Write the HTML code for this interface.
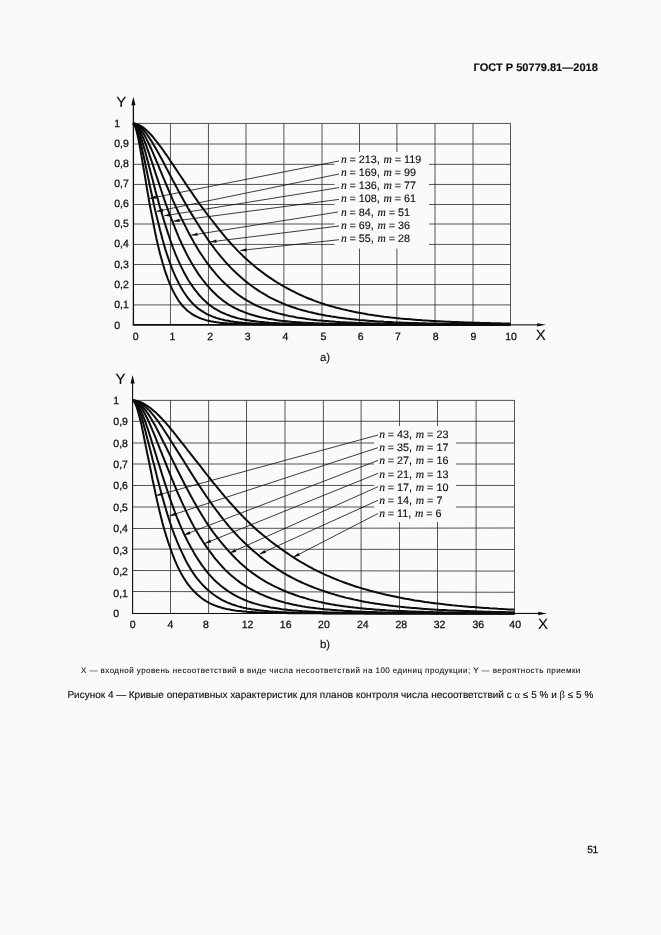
<!DOCTYPE html>
<html lang="ru">
<head>
<meta charset="utf-8">
<title>ГОСТ Р 50779.81—2018</title>
<style>
html,body{margin:0;padding:0;background:#fafafa;}
body{width:661px;height:935px;position:relative;overflow:hidden;font-family:"Liberation Sans",sans-serif;color:#0c0c0c;}
svg{position:absolute;left:0;top:0;}
.it{font-family:"Liberation Serif",serif;font-style:italic;font-size:11.6px;}
.t{position:absolute;white-space:nowrap;line-height:1;}
body,svg text,.t{text-rendering:geometricPrecision;}
.t{-webkit-text-stroke:0.12px #0c0c0c;}
svg text{stroke:#0c0c0c;stroke-width:0.12px;}
svg .tk text{stroke-width:0.25px;}
#hdr{left:473.6px;top:62.9px;font-size:11px;font-weight:bold;letter-spacing:0.02px;}
#note{left:81px;top:667.4px;font-size:8px;letter-spacing:0.448px;-webkit-text-stroke:0.08px #0c0c0c;}
#capt{left:67.4px;top:690.8px;font-size:10px;height:10px;line-height:10px;letter-spacing:0.012px;}
#capt .d{margin-right:-0.4px;}
#capt .g{font-family:"Liberation Serif",serif;font-size:10.5px;line-height:0;-webkit-text-stroke:0;}
#pg{left:587.2px;top:846.3px;font-size:10.2px;letter-spacing:-0.3px;-webkit-text-stroke:0.25px #0c0c0c;}
</style>
</head>
<body>
<svg width="661" height="935" viewBox="0 0 661 935" font-family="'Liberation Sans', sans-serif">
<g stroke="#2a2a2a" stroke-width="0.8" fill="none"><line x1="170.45" y1="123.45" x2="170.45" y2="324.60"/><line x1="208.45" y1="123.45" x2="208.45" y2="324.60"/><line x1="246.00" y1="123.45" x2="246.00" y2="324.60"/><line x1="283.90" y1="123.45" x2="283.90" y2="324.60"/><line x1="322.00" y1="123.45" x2="322.00" y2="324.60"/><line x1="359.50" y1="123.45" x2="359.50" y2="324.60"/><line x1="396.90" y1="123.45" x2="396.90" y2="324.60"/><line x1="435.00" y1="123.45" x2="435.00" y2="324.60"/><line x1="473.00" y1="123.45" x2="473.00" y2="324.60"/><line x1="510.50" y1="123.45" x2="510.50" y2="324.60"/><line x1="133.40" y1="123.45" x2="510.50" y2="123.45"/><line x1="133.40" y1="144.00" x2="510.50" y2="144.00"/><line x1="133.40" y1="164.35" x2="510.50" y2="164.35"/><line x1="133.40" y1="184.45" x2="510.50" y2="184.45"/><line x1="133.40" y1="204.50" x2="510.50" y2="204.50"/><line x1="133.40" y1="224.00" x2="510.50" y2="224.00"/><line x1="133.40" y1="244.45" x2="510.50" y2="244.45"/><line x1="133.40" y1="264.50" x2="510.50" y2="264.50"/><line x1="133.40" y1="284.50" x2="510.50" y2="284.50"/><line x1="133.40" y1="304.90" x2="510.50" y2="304.90"/></g>
<rect x="334.5" y="152" width="94.5" height="96.5" fill="#fafafa"/>
<line x1="133.4" y1="102.8" x2="133.4" y2="324.85" stroke="#0c0c0c" stroke-width="1.3"/>
<line x1="132.75" y1="324.85" x2="510.5" y2="324.85" stroke="#0c0c0c" stroke-width="1.7"/>
<line x1="510.5" y1="324.85" x2="539.9" y2="324.85" stroke="#0c0c0c" stroke-width="1.1"/>
<path d="M133.4,96.8 L135.5,105.3 L131.3,105.3 Z" fill="#0c0c0c"/>
<path d="M545.9,324.85 L537.1,323.15000000000003 L537.1,326.55 Z" fill="#0c0c0c"/>
<g stroke="#0c0c0c" stroke-width="0.8" fill="none"><line x1="339" y1="161" x2="149.7" y2="198.4"/><line x1="339" y1="174" x2="156.7" y2="211.4"/><line x1="339" y1="187.6" x2="164.2" y2="215.8"/><line x1="339" y1="199.4" x2="173.2" y2="221.2"/><line x1="338" y1="212" x2="191.2" y2="235.2"/><line x1="339" y1="226" x2="210.2" y2="241.9"/><line x1="339" y1="239.7" x2="240.2" y2="250.5"/></g>
<g fill="#0c0c0c"><path d="M149.70,198.40 L156.19,198.75 L155.57,195.61 Z"/><path d="M156.70,211.40 L163.19,211.70 L162.55,208.57 Z"/><path d="M164.20,215.80 L170.67,216.38 L170.16,213.22 Z"/><path d="M173.20,221.20 L179.65,221.97 L179.24,218.79 Z"/><path d="M191.20,235.20 L197.67,235.80 L197.17,232.64 Z"/><path d="M210.20,241.90 L216.65,242.72 L216.26,239.54 Z"/><path d="M240.20,250.50 L246.64,251.41 L246.29,248.22 Z"/></g>
<g stroke="#0c0c0c" stroke-width="2.0" fill="none" stroke-linejoin="round"><path d="M132.9,123.5 L133.9,124.2 L135.0,126.2 L136.0,129.2 L137.1,133.2 L138.2,138.0 L139.2,143.4 L140.3,149.2 L141.4,155.4 L142.5,161.9 L143.6,168.5 L144.8,175.3 L145.9,182.0 L147.0,188.8 L148.2,195.5 L149.3,202.2 L150.5,208.6 L151.7,214.8 L152.9,220.8 L154.0,226.8 L155.2,232.7 L156.4,238.4 L157.7,243.9 L158.9,249.0 L160.1,253.9 L161.4,258.6 L162.6,263.0 L163.9,267.2 L165.1,271.2 L166.4,274.9 L167.7,278.5 L169.0,281.8 L170.3,284.9 L171.6,287.9 L172.9,290.7 L174.3,293.3 L175.6,295.8 L177.0,298.1 L178.3,300.2 L179.7,302.2 L181.1,304.0 L182.5,305.7 L183.9,307.2 L185.3,308.6 L186.7,310.0 L188.1,311.2 L189.6,312.3 L191.0,313.3 L192.5,314.3 L193.9,315.2 L195.4,316.0 L196.9,316.7 L198.3,317.4 L199.8,318.0 L201.3,318.6 L202.9,319.1 L204.4,319.6 L205.9,320.1 L207.4,320.5 L209.0,320.8 L210.5,321.2 L212.1,321.5 L213.6,321.8 L215.2,322.0 L216.7,322.3 L218.3,322.5 L219.9,322.7 L221.5,322.9 L223.1,323.0 L224.7,323.2 L226.3,323.3 L228.0,323.4 L229.6,323.5 L231.2,323.6 L232.9,323.7 L234.6,323.8 L236.2,323.9 L237.9,324.0 L239.6,324.0 L241.3,324.1 L243.0,324.1 L244.7,324.2 L246.4,324.2 L248.2,324.3 L249.9,324.3 L251.7,324.3 L253.5,324.3 L255.2,324.4 L257.0,324.4 L258.8,324.4 L260.6,324.4 L262.5,324.5 L264.3,324.5 L266.1,324.5 L267.9,324.5 L269.8,324.5 L271.7,324.5 L273.5,324.5 L275.4,324.5 L277.3,324.5 L279.2,324.5 L281.1,324.6 L283.0,324.6 L284.9,324.6 L286.8,324.6 L288.8,324.6 L290.7,324.6 L292.7,324.6 L294.7,324.6 L296.6,324.6 L298.6,324.6 L300.6,324.6 L302.6,324.6 L304.6,324.6 L306.6,324.6 L308.7,324.6 L310.7,324.6 L312.8,324.6 L314.8,324.6 L316.9,324.6 L319.0,324.6 L321.0,324.6 L323.1,324.6 L325.2,324.6 L327.2,324.6 L329.3,324.6 L331.4,324.6 L333.5,324.6 L335.6,324.6 L337.7,324.6 L339.9,324.6 L342.0,324.6 L344.1,324.6 L346.3,324.6 L348.4,324.6 L350.6,324.6 L352.8,324.6 L355.0,324.6 L357.2,324.6 L359.4,324.6 L361.6,324.6 L363.8,324.6 L366.0,324.6 L368.2,324.6 L370.5,324.6 L372.7,324.6 L374.9,324.6 L377.2,324.6 L379.5,324.6 L381.8,324.6 L384.0,324.6 L386.3,324.6 L388.6,324.6 L391.0,324.6 L393.3,324.6 L395.6,324.6 L398.0,324.6 L400.3,324.6 L402.7,324.6 L405.2,324.6 L407.6,324.6 L410.0,324.6 L412.4,324.6 L414.9,324.6 L417.3,324.6 L419.8,324.6 L422.2,324.6 L424.7,324.6 L427.2,324.6 L429.7,324.6 L432.2,324.6 L434.7,324.6 L437.2,324.6 L439.7,324.6 L442.3,324.6 L444.8,324.6 L447.3,324.6 L449.9,324.6 L452.5,324.6 L455.0,324.6 L457.6,324.6 L460.2,324.6 L462.8,324.6 L465.4,324.6 L468.0,324.6 L470.6,324.6 L473.3,324.6 L475.9,324.6 L478.5,324.6 L481.1,324.6 L483.7,324.6 L486.4,324.6 L489.0,324.6 L491.7,324.6 L494.3,324.6 L497.0,324.6 L499.7,324.6 L502.4,324.6 L505.1,324.6 L507.8,324.6 L510.5,324.6"/><path d="M132.9,123.5 L133.9,123.9 L135.0,125.2 L136.0,127.3 L137.1,130.1 L138.2,133.4 L139.2,137.2 L140.3,141.4 L141.4,146.0 L142.5,150.9 L143.6,156.0 L144.8,161.3 L145.9,166.7 L147.0,172.1 L148.2,177.7 L149.3,183.2 L150.5,188.8 L151.7,194.3 L152.9,199.8 L154.0,205.2 L155.2,210.4 L156.4,215.4 L157.7,220.4 L158.9,225.3 L160.1,230.3 L161.4,235.1 L162.6,239.7 L163.9,244.2 L165.1,248.5 L166.4,252.6 L167.7,256.5 L169.0,260.3 L170.3,263.9 L171.6,267.4 L172.9,270.7 L174.3,273.9 L175.6,276.9 L177.0,279.7 L178.3,282.5 L179.7,285.1 L181.1,287.6 L182.5,289.9 L183.9,292.2 L185.3,294.3 L186.7,296.3 L188.1,298.2 L189.6,300.0 L191.0,301.7 L192.5,303.3 L193.9,304.7 L195.4,306.1 L196.9,307.4 L198.3,308.6 L199.8,309.7 L201.3,310.7 L202.9,311.7 L204.4,312.6 L205.9,313.5 L207.4,314.3 L209.0,315.0 L210.5,315.7 L212.1,316.4 L213.6,317.0 L215.2,317.5 L216.7,318.1 L218.3,318.5 L219.9,319.0 L221.5,319.4 L223.1,319.8 L224.7,320.2 L226.3,320.5 L228.0,320.8 L229.6,321.1 L231.2,321.4 L232.9,321.6 L234.6,321.9 L236.2,322.1 L237.9,322.3 L239.6,322.5 L241.3,322.6 L243.0,322.8 L244.7,322.9 L246.4,323.1 L248.2,323.2 L249.9,323.3 L251.7,323.4 L253.5,323.5 L255.2,323.6 L257.0,323.7 L258.8,323.8 L260.6,323.8 L262.5,323.9 L264.3,323.9 L266.1,324.0 L267.9,324.1 L269.8,324.1 L271.7,324.1 L273.5,324.2 L275.4,324.2 L277.3,324.2 L279.2,324.3 L281.1,324.3 L283.0,324.3 L284.9,324.4 L286.8,324.4 L288.8,324.4 L290.7,324.4 L292.7,324.4 L294.7,324.4 L296.6,324.5 L298.6,324.5 L300.6,324.5 L302.6,324.5 L304.6,324.5 L306.6,324.5 L308.7,324.5 L310.7,324.5 L312.8,324.5 L314.8,324.5 L316.9,324.5 L319.0,324.5 L321.0,324.6 L323.1,324.6 L325.2,324.6 L327.2,324.6 L329.3,324.6 L331.4,324.6 L333.5,324.6 L335.6,324.6 L337.7,324.6 L339.9,324.6 L342.0,324.6 L344.1,324.6 L346.3,324.6 L348.4,324.6 L350.6,324.6 L352.8,324.6 L355.0,324.6 L357.2,324.6 L359.4,324.6 L361.6,324.6 L363.8,324.6 L366.0,324.6 L368.2,324.6 L370.5,324.6 L372.7,324.6 L374.9,324.6 L377.2,324.6 L379.5,324.6 L381.8,324.6 L384.0,324.6 L386.3,324.6 L388.6,324.6 L391.0,324.6 L393.3,324.6 L395.6,324.6 L398.0,324.6 L400.3,324.6 L402.7,324.6 L405.2,324.6 L407.6,324.6 L410.0,324.6 L412.4,324.6 L414.9,324.6 L417.3,324.6 L419.8,324.6 L422.2,324.6 L424.7,324.6 L427.2,324.6 L429.7,324.6 L432.2,324.6 L434.7,324.6 L437.2,324.6 L439.7,324.6 L442.3,324.6 L444.8,324.6 L447.3,324.6 L449.9,324.6 L452.5,324.6 L455.0,324.6 L457.6,324.6 L460.2,324.6 L462.8,324.6 L465.4,324.6 L468.0,324.6 L470.6,324.6 L473.3,324.6 L475.9,324.6 L478.5,324.6 L481.1,324.6 L483.7,324.6 L486.4,324.6 L489.0,324.6 L491.7,324.6 L494.3,324.6 L497.0,324.6 L499.7,324.6 L502.4,324.6 L505.1,324.6 L507.8,324.6 L510.5,324.6"/><path d="M132.9,123.5 L133.9,123.7 L135.0,124.6 L136.0,126.0 L137.1,127.8 L138.2,130.1 L139.2,132.7 L140.3,135.7 L141.4,138.9 L142.5,142.5 L143.6,146.2 L144.8,150.1 L145.9,154.2 L147.0,158.5 L148.2,162.8 L149.3,167.2 L150.5,171.7 L151.7,176.2 L152.9,180.7 L154.0,185.3 L155.2,189.9 L156.4,194.4 L157.7,198.9 L158.9,203.4 L160.1,207.7 L161.4,211.9 L162.6,216.1 L163.9,220.2 L165.1,224.2 L166.4,228.4 L167.7,232.4 L169.0,236.3 L170.3,240.2 L171.6,243.9 L172.9,247.5 L174.3,251.0 L175.6,254.3 L177.0,257.6 L178.3,260.7 L179.7,263.7 L181.1,266.6 L182.5,269.4 L183.9,272.2 L185.3,274.8 L186.7,277.3 L188.1,279.7 L189.6,282.0 L191.0,284.2 L192.5,286.3 L193.9,288.4 L195.4,290.4 L196.9,292.2 L198.3,294.0 L199.8,295.8 L201.3,297.4 L202.9,299.0 L204.4,300.4 L205.9,301.8 L207.4,303.2 L209.0,304.5 L210.5,305.6 L212.1,306.8 L213.6,307.8 L215.2,308.8 L216.7,309.7 L218.3,310.6 L219.9,311.5 L221.5,312.3 L223.1,313.0 L224.7,313.7 L226.3,314.4 L228.0,315.0 L229.6,315.6 L231.2,316.2 L232.9,316.7 L234.6,317.2 L236.2,317.7 L237.9,318.2 L239.6,318.6 L241.3,319.0 L243.0,319.3 L244.7,319.7 L246.4,320.0 L248.2,320.3 L249.9,320.6 L251.7,320.9 L253.5,321.1 L255.2,321.3 L257.0,321.6 L258.8,321.8 L260.6,322.0 L262.5,322.1 L264.3,322.3 L266.1,322.5 L267.9,322.6 L269.8,322.8 L271.7,322.9 L273.5,323.0 L275.4,323.1 L277.3,323.2 L279.2,323.3 L281.1,323.4 L283.0,323.5 L284.9,323.6 L286.8,323.6 L288.8,323.7 L290.7,323.8 L292.7,323.8 L294.7,323.9 L296.6,323.9 L298.6,324.0 L300.6,324.0 L302.6,324.1 L304.6,324.1 L306.6,324.2 L308.7,324.2 L310.7,324.2 L312.8,324.2 L314.8,324.3 L316.9,324.3 L319.0,324.3 L321.0,324.3 L323.1,324.4 L325.2,324.4 L327.2,324.4 L329.3,324.4 L331.4,324.4 L333.5,324.4 L335.6,324.5 L337.7,324.5 L339.9,324.5 L342.0,324.5 L344.1,324.5 L346.3,324.5 L348.4,324.5 L350.6,324.5 L352.8,324.5 L355.0,324.5 L357.2,324.5 L359.4,324.5 L361.6,324.5 L363.8,324.5 L366.0,324.6 L368.2,324.6 L370.5,324.6 L372.7,324.6 L374.9,324.6 L377.2,324.6 L379.5,324.6 L381.8,324.6 L384.0,324.6 L386.3,324.6 L388.6,324.6 L391.0,324.6 L393.3,324.6 L395.6,324.6 L398.0,324.6 L400.3,324.6 L402.7,324.6 L405.2,324.6 L407.6,324.6 L410.0,324.6 L412.4,324.6 L414.9,324.6 L417.3,324.6 L419.8,324.6 L422.2,324.6 L424.7,324.6 L427.2,324.6 L429.7,324.6 L432.2,324.6 L434.7,324.6 L437.2,324.6 L439.7,324.6 L442.3,324.6 L444.8,324.6 L447.3,324.6 L449.9,324.6 L452.5,324.6 L455.0,324.6 L457.6,324.6 L460.2,324.6 L462.8,324.6 L465.4,324.6 L468.0,324.6 L470.6,324.6 L473.3,324.6 L475.9,324.6 L478.5,324.6 L481.1,324.6 L483.7,324.6 L486.4,324.6 L489.0,324.6 L491.7,324.6 L494.3,324.6 L497.0,324.6 L499.7,324.6 L502.4,324.6 L505.1,324.6 L507.8,324.6 L510.5,324.6"/><path d="M132.9,123.5 L133.9,123.6 L135.0,124.2 L136.0,125.1 L137.1,126.3 L138.2,127.8 L139.2,129.5 L140.3,131.6 L141.4,133.8 L142.5,136.3 L143.6,138.9 L144.8,141.8 L145.9,144.7 L147.0,147.8 L148.2,151.1 L149.3,154.4 L150.5,157.8 L151.7,161.4 L152.9,164.9 L154.0,168.5 L155.2,172.2 L156.4,175.9 L157.7,179.6 L158.9,183.3 L160.1,187.0 L161.4,190.8 L162.6,194.5 L163.9,198.2 L165.1,201.9 L166.4,205.5 L167.7,209.0 L169.0,212.5 L170.3,215.9 L171.6,219.3 L172.9,222.7 L174.3,226.1 L175.6,229.5 L177.0,232.8 L178.3,236.1 L179.7,239.3 L181.1,242.4 L182.5,245.5 L183.9,248.4 L185.3,251.3 L186.7,254.1 L188.1,256.8 L189.6,259.4 L191.0,262.0 L192.5,264.5 L193.9,266.9 L195.4,269.3 L196.9,271.6 L198.3,273.8 L199.8,275.9 L201.3,278.0 L202.9,280.0 L204.4,281.9 L205.9,283.8 L207.4,285.6 L209.0,287.4 L210.5,289.1 L212.1,290.7 L213.6,292.3 L215.2,293.8 L216.7,295.3 L218.3,296.7 L219.9,298.1 L221.5,299.3 L223.1,300.6 L224.7,301.8 L226.3,302.9 L228.0,304.0 L229.6,305.1 L231.2,306.0 L232.9,307.0 L234.6,307.8 L236.2,308.7 L237.9,309.5 L239.6,310.3 L241.3,311.0 L243.0,311.7 L244.7,312.4 L246.4,313.0 L248.2,313.6 L249.9,314.2 L251.7,314.8 L253.5,315.3 L255.2,315.8 L257.0,316.3 L258.8,316.7 L260.6,317.2 L262.5,317.6 L264.3,318.0 L266.1,318.3 L267.9,318.7 L269.8,319.0 L271.7,319.3 L273.5,319.6 L275.4,319.9 L277.3,320.2 L279.2,320.4 L281.1,320.7 L283.0,320.9 L284.9,321.1 L286.8,321.3 L288.8,321.5 L290.7,321.7 L292.7,321.9 L294.7,322.0 L296.6,322.2 L298.6,322.3 L300.6,322.4 L302.6,322.6 L304.6,322.7 L306.6,322.8 L308.7,322.9 L310.7,323.0 L312.8,323.1 L314.8,323.2 L316.9,323.3 L319.0,323.4 L321.0,323.4 L323.1,323.5 L325.2,323.6 L327.2,323.7 L329.3,323.7 L331.4,323.8 L333.5,323.8 L335.6,323.9 L337.7,323.9 L339.9,324.0 L342.0,324.0 L344.1,324.0 L346.3,324.1 L348.4,324.1 L350.6,324.1 L352.8,324.2 L355.0,324.2 L357.2,324.2 L359.4,324.2 L361.6,324.3 L363.8,324.3 L366.0,324.3 L368.2,324.3 L370.5,324.3 L372.7,324.4 L374.9,324.4 L377.2,324.4 L379.5,324.4 L381.8,324.4 L384.0,324.4 L386.3,324.4 L388.6,324.5 L391.0,324.5 L393.3,324.5 L395.6,324.5 L398.0,324.5 L400.3,324.5 L402.7,324.5 L405.2,324.5 L407.6,324.5 L410.0,324.5 L412.4,324.5 L414.9,324.5 L417.3,324.5 L419.8,324.5 L422.2,324.5 L424.7,324.5 L427.2,324.6 L429.7,324.6 L432.2,324.6 L434.7,324.6 L437.2,324.6 L439.7,324.6 L442.3,324.6 L444.8,324.6 L447.3,324.6 L449.9,324.6 L452.5,324.6 L455.0,324.6 L457.6,324.6 L460.2,324.6 L462.8,324.6 L465.4,324.6 L468.0,324.6 L470.6,324.6 L473.3,324.6 L475.9,324.6 L478.5,324.6 L481.1,324.6 L483.7,324.6 L486.4,324.6 L489.0,324.6 L491.7,324.6 L494.3,324.6 L497.0,324.6 L499.7,324.6 L502.4,324.6 L505.1,324.6 L507.8,324.6 L510.5,324.6"/><path d="M132.9,123.5 L133.9,123.6 L135.0,123.9 L136.0,124.5 L137.1,125.3 L138.2,126.3 L139.2,127.4 L140.3,128.8 L141.4,130.3 L142.5,132.0 L143.6,133.8 L144.8,135.8 L145.9,137.9 L147.0,140.1 L148.2,142.4 L149.3,144.8 L150.5,147.3 L151.7,149.9 L152.9,152.6 L154.0,155.3 L155.2,158.1 L156.4,161.0 L157.7,163.9 L158.9,166.9 L160.1,169.8 L161.4,172.8 L162.6,175.8 L163.9,178.9 L165.1,181.9 L166.4,185.0 L167.7,188.0 L169.0,191.1 L170.3,194.2 L171.6,197.2 L172.9,200.3 L174.3,203.3 L175.6,206.2 L177.0,209.1 L178.3,212.0 L179.7,214.9 L181.1,217.7 L182.5,220.5 L183.9,223.3 L185.3,226.1 L186.7,228.9 L188.1,231.7 L189.6,234.5 L191.0,237.1 L192.5,239.8 L193.9,242.4 L195.4,245.0 L196.9,247.4 L198.3,249.8 L199.8,252.2 L201.3,254.5 L202.9,256.8 L204.4,259.0 L205.9,261.2 L207.4,263.3 L209.0,265.4 L210.5,267.4 L212.1,269.3 L213.6,271.2 L215.2,273.1 L216.7,274.9 L218.3,276.7 L219.9,278.4 L221.5,280.1 L223.1,281.7 L224.7,283.3 L226.3,284.8 L228.0,286.3 L229.6,287.8 L231.2,289.2 L232.9,290.6 L234.6,292.0 L236.2,293.3 L237.9,294.5 L239.6,295.7 L241.3,296.9 L243.0,298.0 L244.7,299.1 L246.4,300.2 L248.2,301.2 L249.9,302.2 L251.7,303.2 L253.5,304.1 L255.2,305.0 L257.0,305.8 L258.8,306.6 L260.6,307.3 L262.5,308.1 L264.3,308.8 L266.1,309.5 L267.9,310.1 L269.8,310.8 L271.7,311.4 L273.5,312.0 L275.4,312.5 L277.3,313.1 L279.2,313.6 L281.1,314.1 L283.0,314.5 L284.9,315.0 L286.8,315.4 L288.8,315.9 L290.7,316.3 L292.7,316.6 L294.7,317.0 L296.6,317.4 L298.6,317.7 L300.6,318.0 L302.6,318.3 L304.6,318.6 L306.6,318.9 L308.7,319.2 L310.7,319.5 L312.8,319.7 L314.8,319.9 L316.9,320.2 L319.0,320.4 L321.0,320.6 L323.1,320.8 L325.2,321.0 L327.2,321.1 L329.3,321.3 L331.4,321.5 L333.5,321.6 L335.6,321.8 L337.7,321.9 L339.9,322.1 L342.0,322.2 L344.1,322.3 L346.3,322.4 L348.4,322.5 L350.6,322.6 L352.8,322.7 L355.0,322.8 L357.2,322.9 L359.4,323.0 L361.6,323.1 L363.8,323.2 L366.0,323.3 L368.2,323.3 L370.5,323.4 L372.7,323.5 L374.9,323.5 L377.2,323.6 L379.5,323.6 L381.8,323.7 L384.0,323.7 L386.3,323.8 L388.6,323.8 L391.0,323.9 L393.3,323.9 L395.6,323.9 L398.0,324.0 L400.3,324.0 L402.7,324.0 L405.2,324.1 L407.6,324.1 L410.0,324.1 L412.4,324.2 L414.9,324.2 L417.3,324.2 L419.8,324.2 L422.2,324.2 L424.7,324.3 L427.2,324.3 L429.7,324.3 L432.2,324.3 L434.7,324.3 L437.2,324.3 L439.7,324.4 L442.3,324.4 L444.8,324.4 L447.3,324.4 L449.9,324.4 L452.5,324.4 L455.0,324.4 L457.6,324.4 L460.2,324.5 L462.8,324.5 L465.4,324.5 L468.0,324.5 L470.6,324.5 L473.3,324.5 L475.9,324.5 L478.5,324.5 L481.1,324.5 L483.7,324.5 L486.4,324.5 L489.0,324.5 L491.7,324.5 L494.3,324.5 L497.0,324.5 L499.7,324.5 L502.4,324.5 L505.1,324.5 L507.8,324.6 L510.5,324.6"/><path d="M132.9,123.5 L133.9,123.5 L135.0,123.7 L136.0,124.1 L137.1,124.6 L138.2,125.2 L139.2,126.0 L140.3,126.9 L141.4,127.9 L142.5,129.0 L143.6,130.2 L144.8,131.6 L145.9,133.0 L147.0,134.5 L148.2,136.1 L149.3,137.8 L150.5,139.6 L151.7,141.5 L152.9,143.4 L154.0,145.4 L155.2,147.4 L156.4,149.5 L157.7,151.7 L158.9,153.9 L160.1,156.2 L161.4,158.5 L162.6,160.8 L163.9,163.2 L165.1,165.6 L166.4,168.1 L167.7,170.5 L169.0,173.0 L170.3,175.5 L171.6,178.0 L172.9,180.5 L174.3,183.0 L175.6,185.5 L177.0,188.1 L178.3,190.6 L179.7,193.2 L181.1,195.7 L182.5,198.3 L183.9,200.8 L185.3,203.3 L186.7,205.8 L188.1,208.2 L189.6,210.6 L191.0,213.1 L192.5,215.4 L193.9,217.8 L195.4,220.2 L196.9,222.5 L198.3,224.8 L199.8,227.2 L201.3,229.6 L202.9,231.9 L204.4,234.2 L205.9,236.5 L207.4,238.8 L209.0,241.0 L210.5,243.2 L212.1,245.3 L213.6,247.4 L215.2,249.5 L216.7,251.5 L218.3,253.5 L219.9,255.4 L221.5,257.4 L223.1,259.2 L224.7,261.1 L226.3,262.9 L228.0,264.7 L229.6,266.4 L231.2,268.1 L232.9,269.8 L234.6,271.4 L236.2,273.0 L237.9,274.6 L239.6,276.1 L241.3,277.6 L243.0,279.0 L244.7,280.5 L246.4,281.9 L248.2,283.2 L249.9,284.5 L251.7,285.9 L253.5,287.2 L255.2,288.4 L257.0,289.6 L258.8,290.8 L260.6,292.0 L262.5,293.1 L264.3,294.2 L266.1,295.2 L267.9,296.3 L269.8,297.3 L271.7,298.3 L273.5,299.2 L275.4,300.1 L277.3,301.0 L279.2,301.9 L281.1,302.7 L283.0,303.6 L284.9,304.3 L286.8,305.1 L288.8,305.8 L290.7,306.5 L292.7,307.2 L294.7,307.8 L296.6,308.5 L298.6,309.1 L300.6,309.7 L302.6,310.3 L304.6,310.8 L306.6,311.3 L308.7,311.9 L310.7,312.3 L312.8,312.8 L314.8,313.3 L316.9,313.7 L319.0,314.2 L321.0,314.6 L323.1,315.0 L325.2,315.4 L327.2,315.8 L329.3,316.1 L331.4,316.5 L333.5,316.8 L335.6,317.1 L337.7,317.4 L339.9,317.7 L342.0,318.0 L344.1,318.3 L346.3,318.6 L348.4,318.8 L350.6,319.1 L352.8,319.3 L355.0,319.5 L357.2,319.7 L359.4,320.0 L361.6,320.2 L363.8,320.3 L366.0,320.5 L368.2,320.7 L370.5,320.9 L372.7,321.0 L374.9,321.2 L377.2,321.4 L379.5,321.5 L381.8,321.6 L384.0,321.8 L386.3,321.9 L388.6,322.0 L391.0,322.1 L393.3,322.3 L395.6,322.4 L398.0,322.5 L400.3,322.6 L402.7,322.7 L405.2,322.7 L407.6,322.8 L410.0,322.9 L412.4,323.0 L414.9,323.1 L417.3,323.1 L419.8,323.2 L422.2,323.3 L424.7,323.3 L427.2,323.4 L429.7,323.5 L432.2,323.5 L434.7,323.6 L437.2,323.6 L439.7,323.7 L442.3,323.7 L444.8,323.7 L447.3,323.8 L449.9,323.8 L452.5,323.9 L455.0,323.9 L457.6,323.9 L460.2,324.0 L462.8,324.0 L465.4,324.0 L468.0,324.1 L470.6,324.1 L473.3,324.1 L475.9,324.1 L478.5,324.2 L481.1,324.2 L483.7,324.2 L486.4,324.2 L489.0,324.2 L491.7,324.3 L494.3,324.3 L497.0,324.3 L499.7,324.3 L502.4,324.3 L505.1,324.3 L507.8,324.4 L510.5,324.4"/><path d="M132.9,123.5 L133.9,123.5 L135.0,123.6 L136.0,123.9 L137.1,124.2 L138.2,124.6 L139.2,125.1 L140.3,125.7 L141.4,126.3 L142.5,127.1 L143.6,127.9 L144.8,128.8 L145.9,129.7 L147.0,130.8 L148.2,131.9 L149.3,133.0 L150.5,134.2 L151.7,135.5 L152.9,136.9 L154.0,138.3 L155.2,139.8 L156.4,141.3 L157.7,142.8 L158.9,144.5 L160.1,146.1 L161.4,147.8 L162.6,149.5 L163.9,151.3 L165.1,153.1 L166.4,154.9 L167.7,156.8 L169.0,158.7 L170.3,160.7 L171.6,162.6 L172.9,164.6 L174.3,166.6 L175.6,168.6 L177.0,170.6 L178.3,172.7 L179.7,174.8 L181.1,176.8 L182.5,178.9 L183.9,181.0 L185.3,183.1 L186.7,185.2 L188.1,187.4 L189.6,189.5 L191.0,191.6 L192.5,193.7 L193.9,195.9 L195.4,198.0 L196.9,200.1 L198.3,202.2 L199.8,204.3 L201.3,206.4 L202.9,208.4 L204.4,210.5 L205.9,212.5 L207.4,214.5 L209.0,216.5 L210.5,218.5 L212.1,220.5 L213.6,222.4 L215.2,224.4 L216.7,226.4 L218.3,228.4 L219.9,230.4 L221.5,232.4 L223.1,234.4 L224.7,236.3 L226.3,238.2 L228.0,240.1 L229.6,242.0 L231.2,243.8 L232.9,245.6 L234.6,247.4 L236.2,249.1 L237.9,250.9 L239.6,252.6 L241.3,254.2 L243.0,255.9 L244.7,257.5 L246.4,259.1 L248.2,260.7 L249.9,262.2 L251.7,263.8 L253.5,265.3 L255.2,266.8 L257.0,268.2 L258.8,269.6 L260.6,271.0 L262.5,272.4 L264.3,273.8 L266.1,275.1 L267.9,276.4 L269.8,277.7 L271.7,278.9 L273.5,280.1 L275.4,281.3 L277.3,282.5 L279.2,283.7 L281.1,284.8 L283.0,285.9 L284.9,287.0 L286.8,288.1 L288.8,289.2 L290.7,290.2 L292.7,291.2 L294.7,292.2 L296.6,293.2 L298.6,294.1 L300.6,295.0 L302.6,295.9 L304.6,296.8 L306.6,297.7 L308.7,298.5 L310.7,299.3 L312.8,300.1 L314.8,300.9 L316.9,301.6 L319.0,302.4 L321.0,303.1 L323.1,303.8 L325.2,304.5 L327.2,305.1 L329.3,305.7 L331.4,306.3 L333.5,306.9 L335.6,307.5 L337.7,308.1 L339.9,308.6 L342.0,309.1 L344.1,309.6 L346.3,310.1 L348.4,310.6 L350.6,311.1 L352.8,311.6 L355.0,312.0 L357.2,312.4 L359.4,312.8 L361.6,313.2 L363.8,313.6 L366.0,314.0 L368.2,314.4 L370.5,314.7 L372.7,315.1 L374.9,315.4 L377.2,315.7 L379.5,316.1 L381.8,316.4 L384.0,316.7 L386.3,316.9 L388.6,317.2 L391.0,317.5 L393.3,317.7 L395.6,318.0 L398.0,318.2 L400.3,318.5 L402.7,318.7 L405.2,318.9 L407.6,319.1 L410.0,319.3 L412.4,319.5 L414.9,319.7 L417.3,319.9 L419.8,320.1 L422.2,320.3 L424.7,320.4 L427.2,320.6 L429.7,320.7 L432.2,320.9 L434.7,321.0 L437.2,321.2 L439.7,321.3 L442.3,321.4 L444.8,321.6 L447.3,321.7 L449.9,321.8 L452.5,321.9 L455.0,322.0 L457.6,322.1 L460.2,322.2 L462.8,322.3 L465.4,322.4 L468.0,322.5 L470.6,322.6 L473.3,322.7 L475.9,322.7 L478.5,322.8 L481.1,322.9 L483.7,323.0 L486.4,323.0 L489.0,323.1 L491.7,323.2 L494.3,323.2 L497.0,323.3 L499.7,323.3 L502.4,323.4 L505.1,323.4 L507.8,323.5 L510.5,323.5"/></g>
<g font-size="10.5" fill="#0c0c0c" class="tk"><text x="135.70" y="339.55" text-anchor="middle">0</text><text x="172.46" y="339.55" text-anchor="middle">1</text><text x="210.22" y="339.55" text-anchor="middle">2</text><text x="247.68" y="339.55" text-anchor="middle">3</text><text x="285.44" y="339.55" text-anchor="middle">4</text><text x="323.50" y="339.55" text-anchor="middle">5</text><text x="360.56" y="339.55" text-anchor="middle">6</text><text x="398.02" y="339.55" text-anchor="middle">7</text><text x="435.78" y="339.55" text-anchor="middle">8</text><text x="473.54" y="339.55" text-anchor="middle">9</text><text x="511.00" y="339.55" text-anchor="middle">10</text><text x="114.2" y="126.80">1</text><text x="114.2" y="146.90">0,9</text><text x="114.2" y="167.20">0,8</text><text x="114.2" y="187.30">0,7</text><text x="114.2" y="207.35">0,6</text><text x="114.2" y="226.90">0,5</text><text x="114.2" y="247.30">0,4</text><text x="114.2" y="267.60">0,3</text><text x="114.2" y="287.80">0,2</text><text x="114.2" y="308.10">0,1</text><text x="114.2" y="329.30">0</text></g>
<text x="116.3" y="106.6" font-size="15" fill="#0c0c0c">Y</text>
<text x="535.8" y="339.8" font-size="15" fill="#0c0c0c">X</text>
<g font-size="10.8" fill="#0c0c0c"><text x="341.0" y="163.20" ><tspan class="it">n</tspan><tspan dx="-0.3"> = 213, </tspan><tspan class="it" dx="0.6">m</tspan> = 119</text><text x="341.0" y="176.28" ><tspan class="it">n</tspan><tspan dx="-0.3"> = 169, </tspan><tspan class="it" dx="0.6">m</tspan> = 99</text><text x="341.0" y="189.36" ><tspan class="it">n</tspan><tspan dx="-0.3"> = 136, </tspan><tspan class="it" dx="0.6">m</tspan> = 77</text><text x="341.0" y="202.44" ><tspan class="it">n</tspan><tspan dx="-0.3"> = 108, </tspan><tspan class="it" dx="0.6">m</tspan> = 61</text><text x="341.0" y="215.52" ><tspan class="it">n</tspan><tspan dx="-0.3"> = 84, </tspan><tspan class="it" dx="0.6">m</tspan> = 51</text><text x="341.0" y="228.60" ><tspan class="it">n</tspan><tspan dx="-0.3"> = 69, </tspan><tspan class="it" dx="0.6">m</tspan> = 36</text><text x="341.0" y="241.68" ><tspan class="it">n</tspan><tspan dx="-0.3"> = 55, </tspan><tspan class="it" dx="0.6">m</tspan> = 28</text></g>
<text x="325.1" y="360.8" font-size="11.4" text-anchor="middle" fill="#0c0c0c" stroke-width="0.25">a)</text>
<g stroke="#2a2a2a" stroke-width="0.8" fill="none"><line x1="170.50" y1="400.40" x2="170.50" y2="613.40"/><line x1="208.60" y1="400.40" x2="208.60" y2="613.40"/><line x1="246.50" y1="400.40" x2="246.50" y2="613.40"/><line x1="285.00" y1="400.40" x2="285.00" y2="613.40"/><line x1="323.40" y1="400.40" x2="323.40" y2="613.40"/><line x1="361.10" y1="400.40" x2="361.10" y2="613.40"/><line x1="399.50" y1="400.40" x2="399.50" y2="613.40"/><line x1="437.50" y1="400.40" x2="437.50" y2="613.40"/><line x1="476.10" y1="400.40" x2="476.10" y2="613.40"/><line x1="514.50" y1="400.40" x2="514.50" y2="613.40"/><line x1="132.60" y1="400.40" x2="514.50" y2="400.40"/><line x1="132.60" y1="421.30" x2="514.50" y2="421.30"/><line x1="132.60" y1="443.00" x2="514.50" y2="443.00"/><line x1="132.60" y1="464.00" x2="514.50" y2="464.00"/><line x1="132.60" y1="485.50" x2="514.50" y2="485.45"/><line x1="132.60" y1="507.00" x2="514.50" y2="507.00"/><line x1="132.60" y1="528.50" x2="514.50" y2="528.00"/><line x1="132.60" y1="549.10" x2="514.50" y2="549.50"/><line x1="132.60" y1="570.50" x2="514.50" y2="571.10"/><line x1="132.60" y1="591.50" x2="514.50" y2="592.30"/></g>
<rect x="374.2" y="426" width="82.0" height="96" fill="#fafafa"/>
<line x1="132.6" y1="381" x2="132.6" y2="613.45" stroke="#0c0c0c" stroke-width="1.1"/>
<line x1="132.04999999999998" y1="613.45" x2="514.5" y2="613.45" stroke="#0c0c0c" stroke-width="1.1"/>
<line x1="514.5" y1="613.45" x2="541" y2="613.45" stroke="#0c0c0c" stroke-width="1.1"/>
<path d="M132.6,375 L134.7,383.5 L130.5,383.5 Z" fill="#0c0c0c"/>
<path d="M547,613.45 L538.2,611.75 L538.2,615.1500000000001 Z" fill="#0c0c0c"/>
<g stroke="#0c0c0c" stroke-width="0.8" fill="none"><line x1="378" y1="435" x2="156.3" y2="495.5"/><line x1="378" y1="447.7" x2="169.5" y2="515.9"/><line x1="378" y1="460.4" x2="184" y2="534.9"/><line x1="378" y1="473.4" x2="204.9" y2="543.4"/><line x1="378" y1="486.7" x2="229.7" y2="553.1"/><line x1="378" y1="500.3" x2="259.5" y2="554.1"/><line x1="378" y1="513.5" x2="293.5" y2="557.1"/></g>
<g fill="#0c0c0c"><path d="M156.30,495.50 L162.80,495.38 L161.96,492.30 Z"/><path d="M169.50,515.90 L175.99,515.46 L174.99,512.42 Z"/><path d="M184.00,534.90 L190.45,534.14 L189.31,531.15 Z"/><path d="M204.90,543.40 L211.34,542.52 L210.14,539.55 Z"/><path d="M229.70,553.10 L236.10,551.99 L234.80,549.07 Z"/><path d="M259.50,554.10 L265.90,552.95 L264.58,550.04 Z"/><path d="M293.50,557.10 L299.83,555.63 L298.37,552.79 Z"/></g>
<g stroke="#0c0c0c" stroke-width="2.0" fill="none" stroke-linejoin="round"><path d="M132.4,400.4 L133.5,400.9 L134.5,402.2 L135.6,404.3 L136.7,407.0 L137.7,410.4 L138.8,414.2 L139.9,418.5 L141.1,423.2 L142.2,428.4 L143.3,433.8 L144.4,439.4 L145.6,445.1 L146.7,450.8 L147.9,456.5 L149.1,462.3 L150.3,468.2 L151.5,474.1 L152.6,480.0 L153.9,485.8 L155.1,491.5 L156.3,497.1 L157.5,502.6 L158.8,507.9 L160.0,513.1 L161.3,518.2 L162.5,523.1 L163.8,527.9 L165.1,532.3 L166.4,536.5 L167.7,540.6 L169.0,544.5 L170.3,548.2 L171.6,551.9 L173.0,555.5 L174.3,558.9 L175.7,562.1 L177.0,565.2 L178.4,568.1 L179.8,570.9 L181.2,573.5 L182.6,576.0 L184.0,578.3 L185.4,580.5 L186.8,582.6 L188.2,584.6 L189.7,586.4 L191.1,588.1 L192.6,589.8 L194.0,591.3 L195.5,592.8 L197.0,594.3 L198.5,595.6 L200.0,596.8 L201.5,598.0 L203.0,599.1 L204.5,600.1 L206.0,601.1 L207.6,602.0 L209.1,602.8 L210.7,603.6 L212.2,604.3 L213.8,605.0 L215.4,605.6 L217.0,606.2 L218.6,606.8 L220.2,607.3 L221.8,607.7 L223.4,608.2 L225.0,608.6 L226.6,609.0 L228.3,609.3 L229.9,609.6 L231.6,609.9 L233.3,610.2 L235.0,610.5 L236.6,610.7 L238.3,610.9 L240.0,611.1 L241.7,611.3 L243.5,611.5 L245.2,611.6 L246.9,611.8 L248.7,611.9 L250.5,612.0 L252.3,612.1 L254.1,612.2 L255.9,612.3 L257.7,612.4 L259.5,612.5 L261.4,612.6 L263.2,612.7 L265.1,612.7 L266.9,612.8 L268.8,612.8 L270.7,612.9 L272.6,612.9 L274.5,613.0 L276.4,613.0 L278.3,613.0 L280.2,613.1 L282.1,613.1 L284.1,613.1 L286.0,613.1 L287.9,613.2 L289.9,613.2 L291.9,613.2 L293.9,613.2 L295.8,613.2 L297.8,613.3 L299.8,613.3 L301.8,613.3 L303.9,613.3 L305.9,613.3 L307.9,613.3 L310.0,613.3 L312.0,613.3 L314.1,613.3 L316.2,613.3 L318.2,613.3 L320.3,613.3 L322.4,613.4 L324.5,613.4 L326.6,613.4 L328.7,613.4 L330.8,613.4 L332.9,613.4 L335.0,613.4 L337.1,613.4 L339.2,613.4 L341.4,613.4 L343.5,613.4 L345.7,613.4 L347.8,613.4 L350.0,613.4 L352.2,613.4 L354.3,613.4 L356.5,613.4 L358.7,613.4 L361.0,613.4 L363.2,613.4 L365.5,613.4 L367.8,613.4 L370.0,613.4 L372.3,613.4 L374.6,613.4 L377.0,613.4 L379.3,613.4 L381.6,613.4 L384.0,613.4 L386.3,613.4 L388.7,613.4 L391.0,613.4 L393.4,613.4 L395.8,613.4 L398.2,613.4 L400.6,613.4 L402.9,613.4 L405.3,613.4 L407.7,613.4 L410.1,613.4 L412.6,613.4 L415.0,613.4 L417.4,613.4 L419.9,613.4 L422.3,613.4 L424.8,613.4 L427.2,613.4 L429.7,613.4 L432.2,613.4 L434.7,613.4 L437.2,613.4 L439.7,613.4 L442.3,613.4 L444.9,613.4 L447.5,613.4 L450.0,613.4 L452.6,613.4 L455.2,613.4 L457.8,613.4 L460.5,613.4 L463.1,613.4 L465.7,613.4 L468.4,613.4 L471.0,613.4 L473.7,613.4 L476.4,613.4 L479.0,613.4 L481.7,613.4 L484.4,613.4 L487.1,613.4 L489.8,613.4 L492.5,613.4 L495.2,613.4 L498.0,613.4 L500.7,613.4 L503.4,613.4 L506.2,613.4 L508.9,613.4 L511.7,613.4 L514.5,613.4"/><path d="M132.4,400.4 L133.5,400.7 L134.5,401.6 L135.6,402.9 L136.7,404.8 L137.7,407.0 L138.8,409.6 L139.9,412.6 L141.1,415.9 L142.2,419.4 L143.3,423.3 L144.4,427.4 L145.6,431.8 L146.7,436.2 L147.9,440.8 L149.1,445.5 L150.3,450.1 L151.5,454.8 L152.6,459.5 L153.9,464.2 L155.1,469.1 L156.3,473.9 L157.5,478.7 L158.8,483.5 L160.0,488.3 L161.3,492.9 L162.5,497.5 L163.8,502.1 L165.1,506.5 L166.4,510.9 L167.7,515.1 L169.0,519.3 L170.3,523.3 L171.6,527.3 L173.0,531.0 L174.3,534.6 L175.7,538.0 L177.0,541.4 L178.4,544.6 L179.8,547.8 L181.2,550.9 L182.6,553.9 L184.0,556.8 L185.4,559.7 L186.8,562.4 L188.2,565.0 L189.7,567.4 L191.1,569.8 L192.6,572.1 L194.0,574.2 L195.5,576.3 L197.0,578.3 L198.5,580.1 L200.0,581.9 L201.5,583.6 L203.0,585.3 L204.5,586.8 L206.0,588.3 L207.6,589.7 L209.1,591.0 L210.7,592.3 L212.2,593.5 L213.8,594.7 L215.4,595.8 L217.0,596.9 L218.6,597.9 L220.2,598.9 L221.8,599.8 L223.4,600.6 L225.0,601.4 L226.6,602.2 L228.3,602.9 L229.9,603.5 L231.6,604.2 L233.3,604.8 L235.0,605.3 L236.6,605.9 L238.3,606.4 L240.0,606.8 L241.7,607.3 L243.5,607.7 L245.2,608.0 L246.9,608.4 L248.7,608.7 L250.5,609.1 L252.3,609.4 L254.1,609.6 L255.9,609.9 L257.7,610.1 L259.5,610.4 L261.4,610.6 L263.2,610.8 L265.1,611.0 L266.9,611.1 L268.8,611.3 L270.7,611.4 L272.6,611.6 L274.5,611.7 L276.4,611.8 L278.3,612.0 L280.2,612.1 L282.1,612.2 L284.1,612.2 L286.0,612.3 L287.9,612.4 L289.9,612.5 L291.9,612.6 L293.9,612.6 L295.8,612.7 L297.8,612.7 L299.8,612.8 L301.8,612.8 L303.9,612.9 L305.9,612.9 L307.9,612.9 L310.0,613.0 L312.0,613.0 L314.1,613.0 L316.2,613.1 L318.2,613.1 L320.3,613.1 L322.4,613.1 L324.5,613.2 L326.6,613.2 L328.7,613.2 L330.8,613.2 L332.9,613.2 L335.0,613.2 L337.1,613.3 L339.2,613.3 L341.4,613.3 L343.5,613.3 L345.7,613.3 L347.8,613.3 L350.0,613.3 L352.2,613.3 L354.3,613.3 L356.5,613.3 L358.7,613.3 L361.0,613.3 L363.2,613.3 L365.5,613.4 L367.8,613.4 L370.0,613.4 L372.3,613.4 L374.6,613.4 L377.0,613.4 L379.3,613.4 L381.6,613.4 L384.0,613.4 L386.3,613.4 L388.7,613.4 L391.0,613.4 L393.4,613.4 L395.8,613.4 L398.2,613.4 L400.6,613.4 L402.9,613.4 L405.3,613.4 L407.7,613.4 L410.1,613.4 L412.6,613.4 L415.0,613.4 L417.4,613.4 L419.9,613.4 L422.3,613.4 L424.8,613.4 L427.2,613.4 L429.7,613.4 L432.2,613.4 L434.7,613.4 L437.2,613.4 L439.7,613.4 L442.3,613.4 L444.9,613.4 L447.5,613.4 L450.0,613.4 L452.6,613.4 L455.2,613.4 L457.8,613.4 L460.5,613.4 L463.1,613.4 L465.7,613.4 L468.4,613.4 L471.0,613.4 L473.7,613.4 L476.4,613.4 L479.0,613.4 L481.7,613.4 L484.4,613.4 L487.1,613.4 L489.8,613.4 L492.5,613.4 L495.2,613.4 L498.0,613.4 L500.7,613.4 L503.4,613.4 L506.2,613.4 L508.9,613.4 L511.7,613.4 L514.5,613.4"/><path d="M132.4,400.4 L133.5,400.6 L134.5,401.2 L135.6,402.1 L136.7,403.4 L137.7,404.9 L138.8,406.7 L139.9,408.8 L141.1,411.2 L142.2,413.7 L143.3,416.5 L144.4,419.4 L145.6,422.6 L146.7,425.9 L147.9,429.4 L149.1,433.0 L150.3,436.8 L151.5,440.6 L152.6,444.4 L153.9,448.2 L155.1,452.1 L156.3,456.0 L157.5,459.9 L158.8,463.8 L160.0,467.8 L161.3,471.9 L162.5,475.9 L163.8,479.9 L165.1,483.9 L166.4,487.8 L167.7,491.7 L169.0,495.6 L170.3,499.4 L171.6,503.1 L173.0,506.8 L174.3,510.5 L175.7,514.1 L177.0,517.6 L178.4,521.0 L179.8,524.4 L181.2,527.7 L182.6,530.8 L184.0,533.8 L185.4,536.7 L186.8,539.6 L188.2,542.4 L189.7,545.1 L191.1,547.7 L192.6,550.3 L194.0,552.9 L195.5,555.4 L197.0,557.8 L198.5,560.1 L200.0,562.4 L201.5,564.6 L203.0,566.7 L204.5,568.7 L206.0,570.7 L207.6,572.6 L209.1,574.4 L210.7,576.1 L212.2,577.7 L213.8,579.4 L215.4,580.9 L217.0,582.4 L218.6,583.8 L220.2,585.2 L221.8,586.5 L223.4,587.7 L225.0,588.9 L226.6,590.1 L228.3,591.2 L229.9,592.3 L231.6,593.3 L233.3,594.3 L235.0,595.3 L236.6,596.2 L238.3,597.1 L240.0,597.9 L241.7,598.7 L243.5,599.5 L245.2,600.2 L246.9,600.9 L248.7,601.6 L250.5,602.2 L252.3,602.8 L254.1,603.4 L255.9,603.9 L257.7,604.4 L259.5,604.9 L261.4,605.4 L263.2,605.8 L265.1,606.2 L266.9,606.6 L268.8,607.0 L270.7,607.4 L272.6,607.7 L274.5,608.0 L276.4,608.3 L278.3,608.6 L280.2,608.9 L282.1,609.2 L284.1,609.4 L286.0,609.6 L287.9,609.9 L289.9,610.1 L291.9,610.3 L293.9,610.4 L295.8,610.6 L297.8,610.8 L299.8,610.9 L301.8,611.1 L303.9,611.2 L305.9,611.3 L307.9,611.5 L310.0,611.6 L312.0,611.7 L314.1,611.8 L316.2,611.9 L318.2,612.0 L320.3,612.1 L322.4,612.2 L324.5,612.2 L326.6,612.3 L328.7,612.4 L330.8,612.4 L332.9,612.5 L335.0,612.6 L337.1,612.6 L339.2,612.7 L341.4,612.7 L343.5,612.7 L345.7,612.8 L347.8,612.8 L350.0,612.9 L352.2,612.9 L354.3,612.9 L356.5,613.0 L358.7,613.0 L361.0,613.0 L363.2,613.0 L365.5,613.1 L367.8,613.1 L370.0,613.1 L372.3,613.1 L374.6,613.1 L377.0,613.2 L379.3,613.2 L381.6,613.2 L384.0,613.2 L386.3,613.2 L388.7,613.2 L391.0,613.2 L393.4,613.3 L395.8,613.3 L398.2,613.3 L400.6,613.3 L402.9,613.3 L405.3,613.3 L407.7,613.3 L410.1,613.3 L412.6,613.3 L415.0,613.3 L417.4,613.3 L419.9,613.3 L422.3,613.3 L424.8,613.3 L427.2,613.3 L429.7,613.3 L432.2,613.4 L434.7,613.4 L437.2,613.4 L439.7,613.4 L442.3,613.4 L444.9,613.4 L447.5,613.4 L450.0,613.4 L452.6,613.4 L455.2,613.4 L457.8,613.4 L460.5,613.4 L463.1,613.4 L465.7,613.4 L468.4,613.4 L471.0,613.4 L473.7,613.4 L476.4,613.4 L479.0,613.4 L481.7,613.4 L484.4,613.4 L487.1,613.4 L489.8,613.4 L492.5,613.4 L495.2,613.4 L498.0,613.4 L500.7,613.4 L503.4,613.4 L506.2,613.4 L508.9,613.4 L511.7,613.4 L514.5,613.4"/><path d="M132.4,400.4 L133.5,400.5 L134.5,400.9 L135.6,401.5 L136.7,402.3 L137.7,403.3 L138.8,404.5 L139.9,405.9 L141.1,407.4 L142.2,409.1 L143.3,411.0 L144.4,413.0 L145.6,415.2 L146.7,417.5 L147.9,419.8 L149.1,422.4 L150.3,425.1 L151.5,427.8 L152.6,430.7 L153.9,433.7 L155.1,436.7 L156.3,439.7 L157.5,442.9 L158.8,445.9 L160.0,449.1 L161.3,452.2 L162.5,455.4 L163.8,458.5 L165.1,461.8 L166.4,465.0 L167.7,468.3 L169.0,471.6 L170.3,474.9 L171.6,478.2 L173.0,481.4 L174.3,484.7 L175.7,487.9 L177.0,491.1 L178.4,494.3 L179.8,497.5 L181.2,500.6 L182.6,503.7 L184.0,506.7 L185.4,509.7 L186.8,512.7 L188.2,515.6 L189.7,518.5 L191.1,521.4 L192.6,524.1 L194.0,526.9 L195.5,529.5 L197.0,532.0 L198.5,534.5 L200.0,537.0 L201.5,539.3 L203.0,541.7 L204.5,543.9 L206.0,546.1 L207.6,548.3 L209.1,550.5 L210.7,552.6 L212.2,554.7 L213.8,556.8 L215.4,558.8 L217.0,560.7 L218.6,562.6 L220.2,564.4 L221.8,566.2 L223.4,567.9 L225.0,569.6 L226.6,571.2 L228.3,572.8 L229.9,574.3 L231.6,575.7 L233.3,577.1 L235.0,578.5 L236.6,579.8 L238.3,581.1 L240.0,582.4 L241.7,583.6 L243.5,584.7 L245.2,585.8 L246.9,586.9 L248.7,588.0 L250.5,589.0 L252.3,589.9 L254.1,590.9 L255.9,591.8 L257.7,592.7 L259.5,593.6 L261.4,594.4 L263.2,595.2 L265.1,596.0 L266.9,596.8 L268.8,597.5 L270.7,598.2 L272.6,598.9 L274.5,599.5 L276.4,600.1 L278.3,600.7 L280.2,601.3 L282.1,601.8 L284.1,602.4 L286.0,602.9 L287.9,603.3 L289.9,603.8 L291.9,604.2 L293.9,604.7 L295.8,605.1 L297.8,605.5 L299.8,605.8 L301.8,606.2 L303.9,606.5 L305.9,606.9 L307.9,607.2 L310.0,607.5 L312.0,607.7 L314.1,608.0 L316.2,608.3 L318.2,608.5 L320.3,608.8 L322.4,609.0 L324.5,609.2 L326.6,609.4 L328.7,609.6 L330.8,609.8 L332.9,610.0 L335.0,610.1 L337.1,610.3 L339.2,610.5 L341.4,610.6 L343.5,610.8 L345.7,610.9 L347.8,611.0 L350.0,611.1 L352.2,611.3 L354.3,611.4 L356.5,611.5 L358.7,611.6 L361.0,611.7 L363.2,611.8 L365.5,611.8 L367.8,611.9 L370.0,612.0 L372.3,612.1 L374.6,612.1 L377.0,612.2 L379.3,612.3 L381.6,612.3 L384.0,612.4 L386.3,612.4 L388.7,612.5 L391.0,612.5 L393.4,612.6 L395.8,612.6 L398.2,612.7 L400.6,612.7 L402.9,612.7 L405.3,612.8 L407.7,612.8 L410.1,612.8 L412.6,612.9 L415.0,612.9 L417.4,612.9 L419.9,613.0 L422.3,613.0 L424.8,613.0 L427.2,613.0 L429.7,613.1 L432.2,613.1 L434.7,613.1 L437.2,613.1 L439.7,613.1 L442.3,613.1 L444.9,613.2 L447.5,613.2 L450.0,613.2 L452.6,613.2 L455.2,613.2 L457.8,613.2 L460.5,613.2 L463.1,613.2 L465.7,613.2 L468.4,613.3 L471.0,613.3 L473.7,613.3 L476.4,613.3 L479.0,613.3 L481.7,613.3 L484.4,613.3 L487.1,613.3 L489.8,613.3 L492.5,613.3 L495.2,613.3 L498.0,613.3 L500.7,613.3 L503.4,613.3 L506.2,613.3 L508.9,613.3 L511.7,613.3 L514.5,613.3"/><path d="M132.4,400.4 L133.5,400.5 L134.5,400.7 L135.6,401.1 L136.7,401.6 L137.7,402.3 L138.8,403.1 L139.9,404.0 L141.1,405.1 L142.2,406.2 L143.3,407.5 L144.4,408.9 L145.6,410.4 L146.7,412.0 L147.9,413.7 L149.1,415.4 L150.3,417.3 L151.5,419.2 L152.6,421.2 L153.9,423.4 L155.1,425.6 L156.3,427.9 L157.5,430.3 L158.8,432.7 L160.0,435.1 L161.3,437.7 L162.5,440.2 L163.8,442.8 L165.1,445.3 L166.4,447.9 L167.7,450.5 L169.0,453.1 L170.3,455.8 L171.6,458.4 L173.0,461.1 L174.3,463.7 L175.7,466.5 L177.0,469.2 L178.4,472.0 L179.8,474.7 L181.2,477.5 L182.6,480.2 L184.0,483.0 L185.4,485.7 L186.8,488.4 L188.2,491.1 L189.7,493.8 L191.1,496.5 L192.6,499.1 L194.0,501.7 L195.5,504.3 L197.0,506.9 L198.5,509.4 L200.0,511.9 L201.5,514.4 L203.0,516.9 L204.5,519.3 L206.0,521.7 L207.6,524.1 L209.1,526.4 L210.7,528.7 L212.2,530.8 L213.8,533.0 L215.4,535.1 L217.0,537.1 L218.6,539.2 L220.2,541.1 L221.8,543.1 L223.4,545.0 L225.0,546.9 L226.6,548.7 L228.3,550.6 L229.9,552.4 L231.6,554.2 L233.3,556.0 L235.0,557.7 L236.6,559.4 L238.3,561.1 L240.0,562.7 L241.7,564.2 L243.5,565.8 L245.2,567.3 L246.9,568.7 L248.7,570.2 L250.5,571.5 L252.3,572.9 L254.1,574.2 L255.9,575.4 L257.7,576.7 L259.5,577.9 L261.4,579.0 L263.2,580.2 L265.1,581.3 L266.9,582.3 L268.8,583.4 L270.7,584.4 L272.6,585.4 L274.5,586.3 L276.4,587.2 L278.3,588.1 L280.2,589.0 L282.1,589.9 L284.1,590.7 L286.0,591.5 L287.9,592.3 L289.9,593.1 L291.9,593.8 L293.9,594.5 L295.8,595.2 L297.8,595.9 L299.8,596.6 L301.8,597.2 L303.9,597.8 L305.9,598.4 L307.9,599.0 L310.0,599.6 L312.0,600.1 L314.1,600.6 L316.2,601.1 L318.2,601.6 L320.3,602.1 L322.4,602.5 L324.5,603.0 L326.6,603.4 L328.7,603.8 L330.8,604.2 L332.9,604.5 L335.0,604.9 L337.1,605.3 L339.2,605.6 L341.4,605.9 L343.5,606.2 L345.7,606.5 L347.8,606.8 L350.0,607.1 L352.2,607.3 L354.3,607.6 L356.5,607.8 L358.7,608.1 L361.0,608.3 L363.2,608.5 L365.5,608.7 L367.8,608.9 L370.0,609.1 L372.3,609.3 L374.6,609.5 L377.0,609.7 L379.3,609.8 L381.6,610.0 L384.0,610.1 L386.3,610.3 L388.7,610.4 L391.0,610.6 L393.4,610.7 L395.8,610.8 L398.2,610.9 L400.6,611.0 L402.9,611.1 L405.3,611.2 L407.7,611.3 L410.1,611.4 L412.6,611.5 L415.0,611.6 L417.4,611.7 L419.9,611.8 L422.3,611.8 L424.8,611.9 L427.2,612.0 L429.7,612.1 L432.2,612.1 L434.7,612.2 L437.2,612.2 L439.7,612.3 L442.3,612.3 L444.9,612.4 L447.5,612.4 L450.0,612.5 L452.6,612.5 L455.2,612.6 L457.8,612.6 L460.5,612.6 L463.1,612.7 L465.7,612.7 L468.4,612.8 L471.0,612.8 L473.7,612.8 L476.4,612.8 L479.0,612.9 L481.7,612.9 L484.4,612.9 L487.1,612.9 L489.8,613.0 L492.5,613.0 L495.2,613.0 L498.0,613.0 L500.7,613.0 L503.4,613.1 L506.2,613.1 L508.9,613.1 L511.7,613.1 L514.5,613.1"/><path d="M132.4,400.4 L133.5,400.4 L134.5,400.6 L135.6,400.8 L136.7,401.2 L137.7,401.6 L138.8,402.1 L139.9,402.7 L141.1,403.4 L142.2,404.2 L143.3,405.0 L144.4,405.9 L145.6,406.9 L146.7,408.0 L147.9,409.2 L149.1,410.4 L150.3,411.6 L151.5,413.0 L152.6,414.4 L153.9,415.9 L155.1,417.4 L156.3,419.0 L157.5,420.6 L158.8,422.3 L160.0,424.1 L161.3,425.9 L162.5,427.8 L163.8,429.7 L165.1,431.7 L166.4,433.7 L167.7,435.7 L169.0,437.8 L170.3,439.9 L171.6,442.0 L173.0,444.1 L174.3,446.3 L175.7,448.4 L177.0,450.5 L178.4,452.7 L179.8,454.9 L181.2,457.1 L182.6,459.3 L184.0,461.5 L185.4,463.8 L186.8,466.0 L188.2,468.3 L189.7,470.6 L191.1,472.9 L192.6,475.2 L194.0,477.6 L195.5,479.9 L197.0,482.1 L198.5,484.4 L200.0,486.7 L201.5,489.0 L203.0,491.3 L204.5,493.5 L206.0,495.8 L207.6,498.0 L209.1,500.2 L210.7,502.4 L212.2,504.6 L213.8,506.8 L215.4,509.0 L217.0,511.1 L218.6,513.2 L220.2,515.3 L221.8,517.4 L223.4,519.5 L225.0,521.5 L226.6,523.5 L228.3,525.5 L229.9,527.5 L231.6,529.4 L233.3,531.2 L235.0,533.0 L236.6,534.8 L238.3,536.6 L240.0,538.4 L241.7,540.1 L243.5,541.8 L245.2,543.4 L246.9,545.1 L248.7,546.7 L250.5,548.3 L252.3,549.9 L254.1,551.5 L255.9,553.0 L257.7,554.6 L259.5,556.1 L261.4,557.6 L263.2,559.0 L265.1,560.5 L266.9,561.9 L268.8,563.2 L270.7,564.6 L272.6,565.9 L274.5,567.2 L276.4,568.5 L278.3,569.7 L280.2,570.9 L282.1,572.1 L284.1,573.3 L286.0,574.4 L287.9,575.5 L289.9,576.5 L291.9,577.6 L293.9,578.6 L295.8,579.6 L297.8,580.6 L299.8,581.5 L301.8,582.5 L303.9,583.4 L305.9,584.3 L307.9,585.1 L310.0,586.0 L312.0,586.8 L314.1,587.6 L316.2,588.4 L318.2,589.1 L320.3,589.9 L322.4,590.6 L324.5,591.3 L326.6,592.0 L328.7,592.7 L330.8,593.4 L332.9,594.0 L335.0,594.6 L337.1,595.3 L339.2,595.9 L341.4,596.4 L343.5,597.0 L345.7,597.6 L347.8,598.1 L350.0,598.6 L352.2,599.1 L354.3,599.6 L356.5,600.1 L358.7,600.6 L361.0,601.0 L363.2,601.4 L365.5,601.9 L367.8,602.3 L370.0,602.7 L372.3,603.0 L374.6,603.4 L377.0,603.8 L379.3,604.1 L381.6,604.4 L384.0,604.8 L386.3,605.1 L388.7,605.4 L391.0,605.7 L393.4,606.0 L395.8,606.2 L398.2,606.5 L400.6,606.8 L402.9,607.0 L405.3,607.3 L407.7,607.5 L410.1,607.7 L412.6,607.9 L415.0,608.1 L417.4,608.3 L419.9,608.5 L422.3,608.7 L424.8,608.9 L427.2,609.1 L429.7,609.2 L432.2,609.4 L434.7,609.6 L437.2,609.7 L439.7,609.9 L442.3,610.0 L444.9,610.1 L447.5,610.3 L450.0,610.4 L452.6,610.5 L455.2,610.6 L457.8,610.7 L460.5,610.8 L463.1,611.0 L465.7,611.1 L468.4,611.1 L471.0,611.2 L473.7,611.3 L476.4,611.4 L479.0,611.5 L481.7,611.6 L484.4,611.7 L487.1,611.7 L489.8,611.8 L492.5,611.9 L495.2,611.9 L498.0,612.0 L500.7,612.0 L503.4,612.1 L506.2,612.2 L508.9,612.2 L511.7,612.3 L514.5,612.3"/><path d="M132.4,400.4 L133.5,400.4 L134.5,400.5 L135.6,400.7 L136.7,400.9 L137.7,401.2 L138.8,401.5 L139.9,401.9 L141.1,402.4 L142.2,402.9 L143.3,403.5 L144.4,404.1 L145.6,404.8 L146.7,405.5 L147.9,406.3 L149.1,407.1 L150.3,408.0 L151.5,408.9 L152.6,409.9 L153.9,411.0 L155.1,412.0 L156.3,413.1 L157.5,414.3 L158.8,415.5 L160.0,416.8 L161.3,418.0 L162.5,419.4 L163.8,420.7 L165.1,422.1 L166.4,423.6 L167.7,425.1 L169.0,426.7 L170.3,428.3 L171.6,429.9 L173.0,431.5 L174.3,433.2 L175.7,434.9 L177.0,436.6 L178.4,438.3 L179.8,440.1 L181.2,441.9 L182.6,443.6 L184.0,445.4 L185.4,447.2 L186.8,449.0 L188.2,450.8 L189.7,452.6 L191.1,454.5 L192.6,456.3 L194.0,458.2 L195.5,460.1 L197.0,461.9 L198.5,463.8 L200.0,465.7 L201.5,467.7 L203.0,469.6 L204.5,471.6 L206.0,473.5 L207.6,475.5 L209.1,477.4 L210.7,479.4 L212.2,481.3 L213.8,483.3 L215.4,485.2 L217.0,487.2 L218.6,489.1 L220.2,491.0 L221.8,493.0 L223.4,494.9 L225.0,496.8 L226.6,498.7 L228.3,500.6 L229.9,502.5 L231.6,504.3 L233.3,506.2 L235.0,508.0 L236.6,509.9 L238.3,511.7 L240.0,513.5 L241.7,515.3 L243.5,517.1 L245.2,518.8 L246.9,520.6 L248.7,522.3 L250.5,524.1 L252.3,525.8 L254.1,527.4 L255.9,529.1 L257.7,530.7 L259.5,532.2 L261.4,533.8 L263.2,535.3 L265.1,536.8 L266.9,538.3 L268.8,539.8 L270.7,541.3 L272.6,542.7 L274.5,544.1 L276.4,545.5 L278.3,546.9 L280.2,548.3 L282.1,549.6 L284.1,551.0 L286.0,552.4 L287.9,553.7 L289.9,555.0 L291.9,556.3 L293.9,557.6 L295.8,558.9 L297.8,560.1 L299.8,561.3 L301.8,562.5 L303.9,563.7 L305.9,564.8 L307.9,566.0 L310.0,567.1 L312.0,568.2 L314.1,569.3 L316.2,570.3 L318.2,571.4 L320.3,572.4 L322.4,573.4 L324.5,574.3 L326.6,575.3 L328.7,576.2 L330.8,577.1 L332.9,578.0 L335.0,578.9 L337.1,579.7 L339.2,580.6 L341.4,581.4 L343.5,582.2 L345.7,583.0 L347.8,583.8 L350.0,584.5 L352.2,585.3 L354.3,586.0 L356.5,586.7 L358.7,587.4 L361.0,588.1 L363.2,588.8 L365.5,589.4 L367.8,590.0 L370.0,590.7 L372.3,591.3 L374.6,591.9 L377.0,592.5 L379.3,593.1 L381.6,593.6 L384.0,594.2 L386.3,594.8 L388.7,595.3 L391.0,595.8 L393.4,596.3 L395.8,596.8 L398.2,597.3 L400.6,597.8 L402.9,598.2 L405.3,598.7 L407.7,599.1 L410.1,599.5 L412.6,599.9 L415.0,600.4 L417.4,600.7 L419.9,601.1 L422.3,601.5 L424.8,601.9 L427.2,602.2 L429.7,602.6 L432.2,602.9 L434.7,603.2 L437.2,603.5 L439.7,603.8 L442.3,604.1 L444.9,604.4 L447.5,604.7 L450.0,605.0 L452.6,605.3 L455.2,605.5 L457.8,605.8 L460.5,606.0 L463.1,606.3 L465.7,606.5 L468.4,606.7 L471.0,606.9 L473.7,607.1 L476.4,607.3 L479.0,607.5 L481.7,607.7 L484.4,607.9 L487.1,608.1 L489.8,608.3 L492.5,608.4 L495.2,608.6 L498.0,608.8 L500.7,608.9 L503.4,609.1 L506.2,609.2 L508.9,609.4 L511.7,609.5 L514.5,609.6"/></g>
<g font-size="10.5" fill="#0c0c0c" class="tk"><text x="132.60" y="628.40" text-anchor="middle">0</text><text x="170.40" y="628.40" text-anchor="middle">4</text><text x="206.00" y="628.40" text-anchor="middle">8</text><text x="247.50" y="628.40" text-anchor="middle">12</text><text x="285.70" y="628.40" text-anchor="middle">16</text><text x="323.90" y="628.40" text-anchor="middle">20</text><text x="362.80" y="628.40" text-anchor="middle">24</text><text x="401.30" y="628.40" text-anchor="middle">28</text><text x="439.50" y="628.40" text-anchor="middle">32</text><text x="478.30" y="628.40" text-anchor="middle">36</text><text x="515.20" y="628.40" text-anchor="middle">40</text><text x="113.3" y="404.00">1</text><text x="113.3" y="425.30">0,9</text><text x="113.3" y="446.80">0,8</text><text x="113.3" y="467.80">0,7</text><text x="113.3" y="489.30">0,6</text><text x="113.3" y="510.80">0,5</text><text x="113.3" y="532.10">0,4</text><text x="113.3" y="553.60">0,3</text><text x="113.3" y="575.40">0,2</text><text x="113.3" y="596.50">0,1</text><text x="113.3" y="617.10">0</text></g>
<text x="115.5" y="384.3" font-size="15" fill="#0c0c0c">Y</text>
<text x="538" y="628.9" font-size="15" fill="#0c0c0c">X</text>
<g font-size="10.8" fill="#0c0c0c"><text x="379.3" y="438.30" ><tspan class="it">n</tspan><tspan dx="-0.3"> = 43, </tspan><tspan class="it" dx="0.6">m</tspan> = 23</text><text x="379.3" y="451.37" ><tspan class="it">n</tspan><tspan dx="-0.3"> = 35, </tspan><tspan class="it" dx="0.6">m</tspan> = 17</text><text x="379.3" y="464.44" ><tspan class="it">n</tspan><tspan dx="-0.3"> = 27, </tspan><tspan class="it" dx="0.6">m</tspan> = 16</text><text x="379.3" y="477.51" ><tspan class="it">n</tspan><tspan dx="-0.3"> = 21, </tspan><tspan class="it" dx="0.6">m</tspan> = 13</text><text x="379.3" y="490.58" ><tspan class="it">n</tspan><tspan dx="-0.3"> = 17, </tspan><tspan class="it" dx="0.6">m</tspan> = 10</text><text x="379.3" y="503.65" ><tspan class="it">n</tspan><tspan dx="-0.3"> = 14, </tspan><tspan class="it" dx="0.6">m</tspan> = 7</text><text x="379.3" y="516.72" ><tspan class="it">n</tspan><tspan dx="-0.3"> = 11, </tspan><tspan class="it" dx="0.6">m</tspan> = 6</text></g>
<text x="325.1" y="647.5" font-size="11.4" text-anchor="middle" fill="#0c0c0c" stroke-width="0.25">b)</text>
</svg>
<div class="t" id="hdr">ГОСТ Р 50779.81—2018</div>
<div class="t" id="note">Х — входной уровень несоответствий в виде числа несоответствий на 100 единиц продукции; Y — вероятность приемки</div>
<div class="t" id="capt">Рисунок 4 <span class="d">—</span> Кривые оперативных характеристик для планов контроля числа несоответствий с <span class="g">α</span> ≤ 5 % и <span class="g">β</span> ≤ 5 %</div>
<div class="t" id="pg">51</div>
</body>
</html>
